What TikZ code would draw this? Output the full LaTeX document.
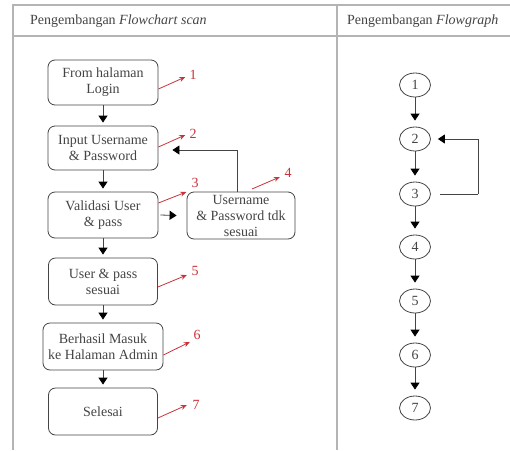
\documentclass[tikz,border=0pt]{standalone}
\usepackage{fontspec}
\setmainfont{Liberation Serif}
\usetikzlibrary{arrows.meta,shapes.geometric}
\definecolor{ink}{HTML}{444444}
\definecolor{rule}{HTML}{B4B4B4}
\definecolor{annot}{HTML}{C8333A}
\tikzset{
  box/.style={draw=ink, line width=0.8pt, rounded corners=7pt, align=center, text=ink,
    font=\fontsize{14}{16}\selectfont, inner sep=0pt},
  cnode/.style={draw=ink, line width=0.8pt, ellipse, minimum width=31pt, minimum height=24pt,
    inner sep=0pt, text=ink, font=\fontsize{14}{16}\selectfont},
  flow/.style={draw=ink, line width=0.8pt, -{Triangle[length=7pt,width=9pt,fill=black,color=black]}},
  plain/.style={draw=ink, line width=0.8pt},
  annotarrow/.style={draw=annot, line width=0.8pt, -{Stealth[length=6pt,width=5pt]}},
  num/.style={text=annot, font=\fontsize{14}{16}\selectfont, inner sep=0pt},
  tline/.style={draw=rule, line width=1.2pt},
  head/.style={text=ink, font=\fontsize{14}{16}\selectfont, inner sep=0pt, anchor=west}
}
\begin{document}
\begin{tikzpicture}[x=1pt,y=-1pt]
\useasboundingbox (0,0) rectangle (510,450);
\fill[white] (0,0) rectangle (510,450);
% table
\draw[tline] (13,450) -- (13,5) -- (510,5);
\draw[tline] (13,36) -- (510,36);
\draw[tline] (337,5) -- (337,450);
\node[head] (h1) at (30,21) {Pengembangan \textit{Flowchart scan}};
\node[head] (h2) at (347,21) {Pengembangan \textit{Flowgraph}};
% flowchart boxes
\node[box, minimum width=110pt, minimum height=45pt] (b1) at (103,82.5) {From halaman\\Login};
\node[box, minimum width=110pt, minimum height=44pt] (b2) at (103,148) {Input Username\\\& Password};
\node[box, minimum width=110pt, minimum height=46pt] (b3) at (103,215) {Validasi User\\\& pass};
\node[box, minimum width=108pt, minimum height=47pt] (b4) at (241,215.5) {Username\\\& Password tdk\\sesuai};
\node[box, minimum width=109pt, minimum height=47pt] (b5) at (103,281.5) {User \& pass\\sesuai};
\node[box, minimum width=120pt, minimum height=47pt] (b6) at (103,346.5) {Berhasil Masuk\\ke Halaman Admin};
\node[box, minimum width=109pt, minimum height=47pt] (b7) at (103,411.5) {Selesai};
\draw[flow] (b1.south) -- ([yshift=3pt]b2.north);
\draw[flow] (b2.south) -- ([yshift=3pt]b3.north);
\draw[flow] (b3.south) -- ([yshift=3pt]b5.north);
\draw[flow] (b5.south) -- ([yshift=3pt]b6.north);
\draw[flow] (b6.south) -- ([yshift=3pt]b7.north);
\draw[flow] ([xshift=2pt]b3.east) -- ([xshift=-10pt]b4.west);
\coordinate (fbA) at (237,150);
\draw[flow] (b4.north -| fbA) -- (fbA) -- ([xshift=14pt]b2.east |- fbA);
% annotations
\node[num] (n1) at (193,75) {1};
\node[num] (n2) at (193,134) {2};
\node[num] (n3) at (195,183) {3};
\node[num] (n4) at (288,173) {4};
\node[num] (n5) at (195,271) {5};
\node[num] (n6) at (197,335) {6};
\node[num] (n7) at (196,405) {7};
\coordinate (a4) at (252,189);
\draw[annotarrow] ([yshift=-6.5pt]b1.east) -- ([xshift=-4pt,yshift=-2pt]n1.west);
\draw[annotarrow] ([yshift=1pt]b2.east) -- ([xshift=-4pt,yshift=-1pt]n2.west);
\draw[annotarrow] ([yshift=12pt]b3.east) -- ([xshift=-5pt,yshift=-9pt]n3.west);
\draw[annotarrow] (a4) -- ([xshift=-4.5pt,yshift=-4pt]n4.west);
\draw[annotarrow] ([yshift=-5.5pt]b5.east) -- ([xshift=-4.5pt,yshift=-4pt]n5.west);
\draw[annotarrow] ([yshift=-8.5pt]b6.east) -- ([xshift=-3.5pt,yshift=-7pt]n6.west);
\draw[annotarrow] ([yshift=-6.5pt]b7.east) -- ([xshift=-5.5pt]n7.west);
% flowgraph
\foreach \i/\y in {1/85,2/139,3/194,4/247,5/301,6/355,7/408}{
  \node[cnode] (g\i) at (415,\y) {\i};
}
\foreach \a/\b in {1/2,2/3,3/4,4/5,5/6,6/7}{
  \draw[flow] (g\a.south) -- ([yshift=6pt]g\b.north);
}
\coordinate (fbB) at (478,194);
\draw[plain] ([xshift=9pt]g3.east) -- (fbB);
\draw[flow] (fbB) -- (fbB |- g2) -- ([xshift=7pt]g2.east);
\end{tikzpicture}
\end{document}
